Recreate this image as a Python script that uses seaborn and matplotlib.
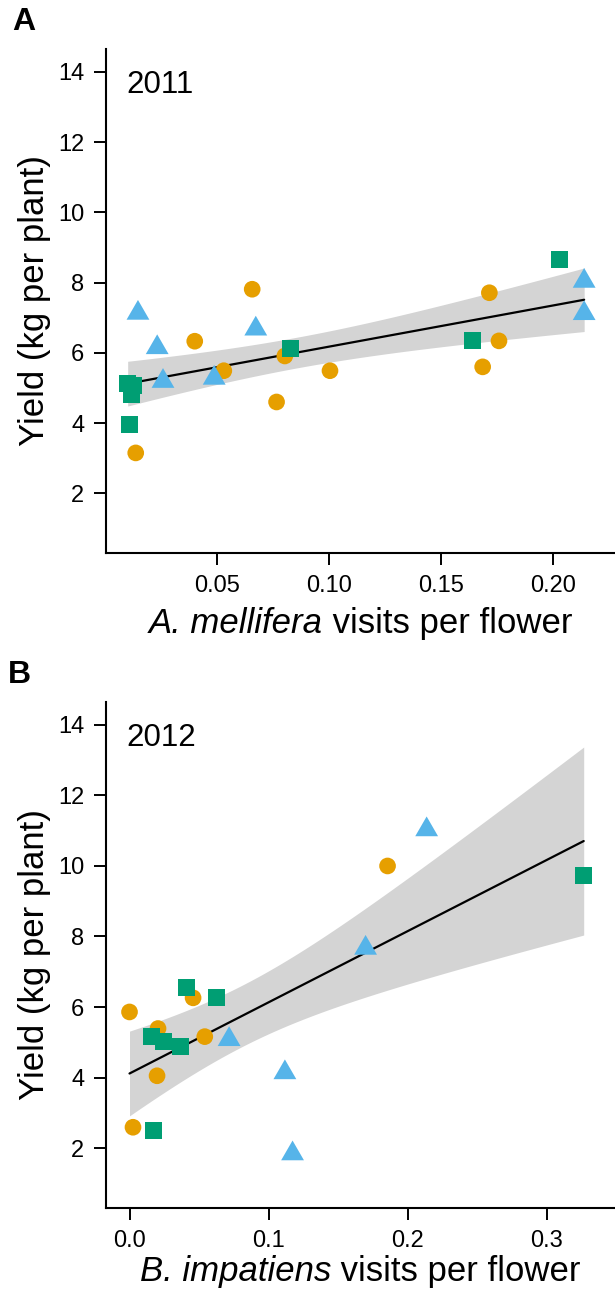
import numpy as np
import pandas as pd
import seaborn as sns
import matplotlib
matplotlib.use("Agg")
import matplotlib.pyplot as plt

# ---------------- data ----------------
# Panel A, 2011: A. mellifera visits per flower vs yield
circ_x_A = [0.0656, 0.0399, 0.0802, 0.0529, 0.0135, 0.0765, 0.1717, 0.1760, 0.1687, 0.1004]
circ_y_A = [7.81, 6.33, 5.91, 5.49, 3.15, 4.60, 7.71, 6.34, 5.60, 5.49]
sq_x_A = [0.0105, 0.0099, 0.0125, 0.0118, 0.0829, 0.2029, 0.1642]
sq_y_A = [3.97, 5.12, 5.06, 4.80, 6.12, 8.66, 6.34]
tri_x_A = [0.0145, 0.0231, 0.0672, 0.0486, 0.0257, 0.2141, 0.2141]
tri_y_A = [7.13, 6.15, 6.68, 5.28, 5.19, 8.04, 7.12]

# Panel B, 2012: B. impatiens visits per flower vs yield
circ_x_B = [0.0, 0.0457, 0.0205, 0.0541, 0.0198, 0.0025, 0.1855]
circ_y_B = [5.86, 6.26, 5.39, 5.16, 4.05, 2.59, 10.0]
sq_x_B = [0.0409, 0.0625, 0.0158, 0.0241, 0.0366, 0.0169, 0.3265]
sq_y_B = [6.54, 6.26, 5.16, 5.02, 4.88, 2.50, 9.74]
tri_x_B = [0.0716, 0.1117, 0.1172, 0.2136, 0.1697]
tri_y_B = [5.08, 4.14, 1.84, 11.03, 7.67]

y_ticks = [2, 4, 6, 8, 10, 12, 14]
x_ticks_A = [0.05, 0.10, 0.15, 0.20]
x_tick_labels_A = ["0.05", "0.10", "0.15", "0.20"]
x_ticks_B = [0.0, 0.1, 0.2, 0.3]
x_tick_labels_B = ["0.0", "0.1", "0.2", "0.3"]

group_names = ["circle", "square", "triangle"]
group_colors = {"circle": "#E69F00", "square": "#009E73", "triangle": "#56B4E9"}

# two-sided 95% t quantiles by residual degrees of freedom
t975 = {17: 2.1098, 22: 2.0739}

# ---------------- style ----------------
sns.set_theme(style="ticks")
plt.rcParams["font.family"] = ["Liberation Sans", "DejaVu Sans"]
plt.rcParams["text.color"] = "black"
plt.rcParams["axes.labelcolor"] = "black"
plt.rcParams["xtick.color"] = "black"
plt.rcParams["ytick.color"] = "black"

W, H = 615, 1298
fig = plt.figure(figsize=(W / 100, H / 100), dpi=100)

def px_axes(left, top, right, bottom):
    return fig.add_axes([left / W, 1 - bottom / H, (right - left) / W, (bottom - top) / H])

axA = px_axes(106, 49, 615, 553)
axB = px_axes(106, 702, 615, 1208)

tri_marker = [(-1, -0.577), (1, -0.577), (0, 1.155)]

def make_df(cx, cy, sx, sy, tx, ty):
    return pd.DataFrame({
        "visits": list(cx) + list(sx) + list(tx),
        "yield": list(cy) + list(sy) + list(ty),
        "group": ["circle"] * len(cx) + ["square"] * len(sx) + ["triangle"] * len(tx),
    })

dfA = make_df(circ_x_A, circ_y_A, sq_x_A, sq_y_A, tri_x_A, tri_y_A)
dfB = make_df(circ_x_B, circ_y_B, sq_x_B, sq_y_B, tri_x_B, tri_y_B)

def ols_band(df):
    x = df["visits"].to_numpy()
    y = df["yield"].to_numpy()
    n = len(x)
    slope, intercept = np.polyfit(x, y, 1)
    resid = y - (intercept + slope * x)
    s = np.sqrt(np.sum(resid ** 2) / (n - 2))
    sxx = np.sum((x - x.mean()) ** 2)
    grid = np.linspace(x.min(), x.max(), 200)
    fit = intercept + slope * grid
    se = s * np.sqrt(1 / n + (grid - x.mean()) ** 2 / sxx)
    t = t975[n - 2]
    return grid, fit - t * se, fit + t * se

LABEL_FS = 25

def mixed_xlabel(ax, italic_part, regular_part, y_px):
    renderer = fig.canvas.get_renderer()
    t1 = fig.text(0, 1 - y_px / H, italic_part, style="italic", fontsize=LABEL_FS,
                  ha="left", va="center_baseline")
    t2 = fig.text(0, 1 - y_px / H, regular_part, fontsize=LABEL_FS,
                  ha="left", va="center_baseline")
    w1 = t1.get_window_extent(renderer).width
    w2 = t2.get_window_extent(renderer).width
    bb = ax.get_position()
    cx = (bb.x0 + bb.x1) / 2 * W
    x0 = cx - (w1 + w2) / 2
    t1.set_x(x0 / W)
    t2.set_x((x0 + w1) / W)

def draw(ax, df, xlim, xticks, xticklabels, year):
    grid, lo, hi = ols_band(df)
    ax.fill_between(grid, lo, hi, color="#D4D4D4", lw=0, zorder=1)
    sns.regplot(data=df, x="visits", y="yield", ax=ax, scatter=False, color="black",
                ci=None, truncate=True, line_kws=dict(lw=1.6, zorder=3))
    spec = {"circle": ("o", 144), "square": ("s", 150), "triangle": (tri_marker, 360)}
    for g in group_names:
        sub = df[df["group"] == g]
        m, s = spec[g]
        sns.scatterplot(data=sub, x="visits", y="yield", ax=ax, marker=m, s=s,
                        color=group_colors[g], edgecolor="none", linewidth=0,
                        zorder=4, legend=False)
    ax.set_xlim(*xlim)
    ax.set_ylim(0.3, 14.65)
    ax.set_yticks(y_ticks)
    ax.set_yticklabels([str(t) for t in y_ticks])
    ax.set_xticks(xticks)
    ax.set_xticklabels(xticklabels)
    ax.tick_params(axis="both", direction="out", length=8.5, width=1.4,
                   labelsize=17, pad=7, colors="black")
    for side in ["top", "right"]:
        ax.spines[side].set_visible(False)
    for side in ["left", "bottom"]:
        ax.spines[side].set_linewidth(1.5)
        ax.spines[side].set_color("black")
    ax.set_xlabel("")
    ax.set_ylabel("Yield (kg per plant)", fontsize=LABEL_FS, labelpad=5)
    ax.text(0.04, 0.958, year, transform=ax.transAxes, fontsize=22.5,
            ha="left", va="top", color="black")

draw(axA, dfA, (0.0002, 0.2279), x_ticks_A, x_tick_labels_A, "2011")
draw(axB, dfB, (-0.0169, 0.349), x_ticks_B, x_tick_labels_B, "2012")

mixed_xlabel(axA, "A. mellifera", " visits per flower", 620)
mixed_xlabel(axB, "B. impatiens", " visits per flower", 1268)

fig.text(12 / W, 1 - 22 / H, "A", fontsize=23, fontweight="bold", ha="left", va="center")
fig.text(8 / W, 1 - 675 / H, "B", fontsize=23, fontweight="bold", ha="left", va="center")

fig.savefig("out.png", dpi=100)
